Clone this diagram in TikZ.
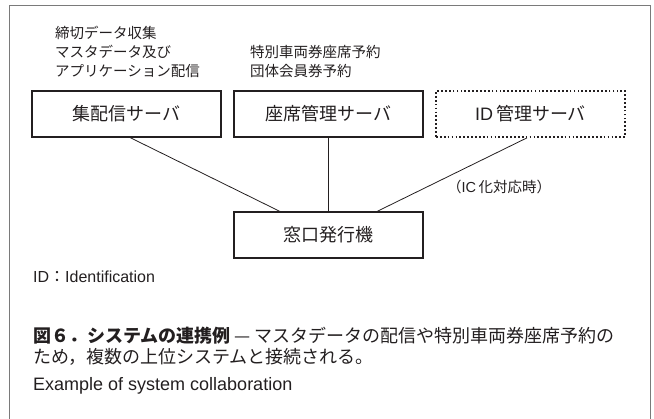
\documentclass[tikz,border=0pt]{standalone}
\usepackage{fontspec}
\setmainfont{Noto Sans CJK JP}
\newfontfamily\lat{Liberation Sans}
\usetikzlibrary{calc}
\definecolor{txt}{HTML}{231F20}
\definecolor{framegray}{HTML}{7A7A7A}
\begin{document}
\begin{tikzpicture}[x=1pt,y=-1pt,
  every node/.style={text=txt},
  box/.style={draw=txt, line width=1.1pt, minimum width=189pt, minimum height=46pt, inner sep=0pt,
    font=\fontsize{18}{18}\selectfont},
  dotbox/.style={box, line width=1.7pt, dash pattern=on 1.7pt off 2.2pt},
  note/.style={anchor=west, inner sep=0pt, align=left, font=\fontsize{14.5}{19}\selectfont},
  capt/.style={anchor=west, inner sep=0pt, font=\fontsize{18}{18}\selectfont},
  latin/.style={anchor=west, inner sep=0pt, font=\fontsize{16}{16}\lat},
  conn/.style={draw=txt, line width=0.8pt},
  frame/.style={draw=framegray, line width=0.9pt}]
\useasboundingbox (0,0) rectangle (654,419);
\draw[frame] (9,419) -- (9,5) -- (650,5) -- (650,419);

\node[note] (n1) at (55,52) {締切データ収集\\マスタデータ及び\\アプリケーション配信};
\node[note] (n2) at (250,61.5) {特別車両券座席予約\\団体会員券予約};

\node[box] (s1) at (126.5,114) {集配信サーバ};
\node[box] (s2) at (328.5,114) {座席管理サーバ};
\node[dotbox] (s3) at (530.5,114) {{\lat ID}\,管理サーバ};
\node[box] (w) at (328.5,235) {窓口発行機};

\draw[conn] ([xshift=3.5pt]s1.south) -- ([xshift=-48.5pt]w.north);
\draw[conn] (s2.south) -- (s2.south |- w.north);
\draw[conn] ([xshift=-3.5pt]s3.south) -- ([xshift=48.5pt]w.north);

\node[note] (ic) at (447,187) {（{\lat IC}\,化対応時）};

\node[latin] (idn) at (33,277) {ID{\fontspec{Noto Sans CJK JP}：}Identification};
\node[capt] (c1) at (33,336) {{\bfseries 図６．システムの連携例} — マスタデータの配信や特別車両券座席予約の};
\node[capt] (c2) at (33,357) {ため，複数の上位システムと接続される。};
\node[latin, font=\fontsize{18}{18}\lat] (en) at (33,386) {Example of system collaboration};
\end{tikzpicture}
\end{document}
